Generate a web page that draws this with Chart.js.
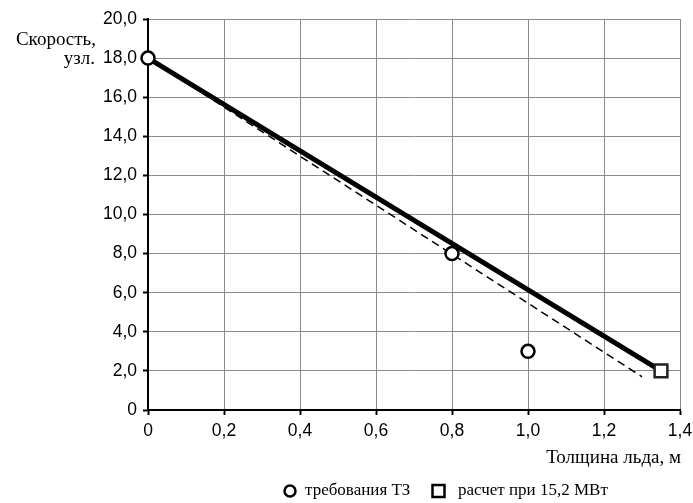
<!DOCTYPE html>
<html>
<head>
<meta charset="utf-8">
<script src="https://cdn.jsdelivr.net/npm/chart.js@4"></script>
<style>
  html, body { margin: 0; padding: 0; background: #fff; }
  #wrap { width: 693px; height: 503px; position: relative; }
</style>
</head>
<body>
<div id="wrap"><canvas id="c" width="693" height="503"></canvas></div>
<script>
// Speed vs ice thickness
const xTicks = [0, 0.2, 0.4, 0.6, 0.8, 1.0, 1.2, 1.4];
const yTicks = [0, 2, 4, 6, 8, 10, 12, 14, 16, 18, 20];

// requirement points (thickness, speed)
const reqX = [0, 0.8, 1.0];
const reqY = [18, 8, 3];

// calculated point at 15.2 MW
const calcX = [1.35];
const calcY = [2];

// solid calculated line and dashed line
const solidX = [0, 1.35];
const solidY = [18, 2];
const dashX = [0, 1.3];
const dashY = [18, 1.7];

const yTitle = ['Скорость,', 'узл.'];
const xTitle = 'Толщина льда, м';
const legendLabels = ['требования ТЗ', 'расчет при 15,2 МВт'];

const pts = (xs, ys) => xs.map((x, i) => ({ x: x, y: ys[i] }));

const fmtX = v => (Math.abs(v) < 1e-9 ? '0' : v.toFixed(1).replace('.', ','));
const fmtY = v => (Math.abs(v) < 1e-9 ? '0' : v.toFixed(1).replace('.', ','));

const serif = '"Liberation Serif", "Times New Roman", serif';
const sans = '"Liberation Sans", Arial, sans-serif';

const annotations = {
  id: 'annotations',
  afterDraw(chart) {
    const ctx = chart.ctx;
    const area = chart.chartArea;
    ctx.save();
    ctx.fillStyle = '#000';
    ctx.font = '19px ' + serif;
    ctx.textAlign = 'right';
    ctx.textBaseline = 'middle';
    const ys = chart.scales.y;
    ctx.fillText(yTitle[0], 96, ys.getPixelForValue(19.0) + 1);
    ctx.fillText(yTitle[1], 95, ys.getPixelForValue(18) + 1);
    ctx.fillText(xTitle, area.right + 1, 458);

    // legend
    ctx.font = '17px ' + serif;
    ctx.textAlign = 'left';
    ctx.lineWidth = 2.5;
    ctx.strokeStyle = '#000';
    ctx.fillStyle = '#fff';
    ctx.beginPath();
    ctx.arc(290, 491, 5.5, 0, Math.PI * 2);
    ctx.fill(); ctx.stroke();
    ctx.strokeRect(432.5, 485, 12, 12);
    ctx.fillStyle = '#000';
    ctx.fillText(legendLabels[0], 305, 491);
    ctx.fillText(legendLabels[1], 458, 491);
    ctx.restore();
  }
};

new Chart(document.getElementById('c'), {
  type: 'scatter',
  data: {
    datasets: [
      {
        label: legendLabels[0],
        data: pts(reqX, reqY),
        pointStyle: 'circle',
        pointRadius: 6.5,
        pointBackgroundColor: '#fff',
        pointBorderColor: '#000',
        pointBorderWidth: 2.5,
        showLine: false,
        clip: false
      },
      {
        label: legendLabels[1],
        data: pts(calcX, calcY),
        pointStyle: 'rect',
        pointRadius: 9,
        pointBackgroundColor: '#fff',
        pointBorderColor: '#222',
        pointBorderWidth: 2.5,
        showLine: false,
        clip: false
      },
      {
        label: 'solid',
        data: pts(solidX, solidY),
        showLine: true,
        borderColor: '#000',
        borderWidth: 5,
        pointRadius: 0
      },
      {
        label: 'dashed',
        data: pts(dashX, dashY),
        showLine: true,
        borderColor: '#000',
        borderWidth: 1.5,
        borderDash: [8, 5],
        pointRadius: 0
      }
    ]
  },
  options: {
    responsive: false,
    animation: false,
    devicePixelRatio: 1,
    layout: { autoPadding: false, padding: { top: 19, right: 13, left: 0, bottom: 0 } },
    plugins: { legend: { display: false }, tooltip: { enabled: false } },
    scales: {
      x: {
        type: 'linear',
        min: 0, max: 1.4,
        afterBuildTicks: s => { s.ticks = xTicks.map(v => ({ value: v })); },
        afterFit: s => { s.height = 93; s.paddingRight = 0; },
        border: { color: '#000', width: 2 },
        grid: { color: '#8c8c8c', lineWidth: 1, tickColor: '#000', tickLength: 5, tickWidth: 2 },
        ticks: { color: '#000', font: { family: sans, size: 17.5 }, padding: 6, callback: v => fmtX(v), maxRotation: 0 }
      },
      y: {
        type: 'linear',
        min: 0, max: 20,
        afterBuildTicks: s => { s.ticks = yTicks.map(v => ({ value: v })); },
        afterFit: s => { s.width = 148; s.paddingTop = 0; },
        border: { color: '#000', width: 2 },
        grid: { color: '#8c8c8c', lineWidth: 1, tickColor: '#000', tickLength: 5, tickWidth: 2 },
        ticks: { color: '#000', font: { family: sans, size: 17.5 }, padding: 6, callback: v => fmtY(v) }
      }
    }
  },
  plugins: [annotations]
});
</script>
</body>
</html>
